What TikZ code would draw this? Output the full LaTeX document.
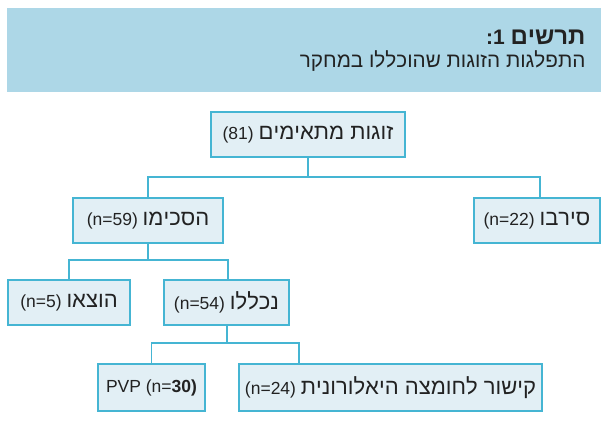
\documentclass[tikz,border=0pt]{standalone}
\usepackage{fontspec}
\setmainfont{Liberation Sans}
\TeXXeTstate=1
\definecolor{band}{HTML}{ADD7E7}
\definecolor{boxfill}{HTML}{E2EFF5}
\definecolor{boxline}{HTML}{45B5D3}
\definecolor{ink}{HTML}{222222}
\newcommand{\RL}[1]{{\fontsize{22}{24}\selectfont\beginR #1\endR}}
\begin{document}
\begin{tikzpicture}[x=1pt,y=-1pt,
  box/.style={draw=boxline, fill=boxfill, line width=1.2pt, inner sep=0pt,
    minimum height=45pt, text=ink, font=\fontsize{17.5}{20}\selectfont},
  link/.style={draw=boxline, line width=1.2pt}]
\useasboundingbox (0,0) rectangle (601,426);
% header band
\fill[band] (7,8) rectangle (601,92);
\node[anchor=base east, text=ink, font=\bfseries\fontsize{21}{24}\selectfont] (title) at (589,44) {:1 {\fontsize{24}{26}\selectfont\beginR תרשים\endR}};
\node[anchor=base east, text=ink, font=\fontsize{20.7}{24}\selectfont] (subtitle) at (589,67) {\beginR התפלגות הזוגות שהוכללו במחקר\endR};
% boxes
\node[box, minimum width=194pt] (top) at (308,134.5) {(81) \RL{זוגות מתאימים}};
\node[box, minimum width=150pt] (agreed) at (148,220.5) {(n=59) \RL{הסכימו}};
\node[box, minimum width=126pt] (refused) at (537,220.5) {(n=22) \RL{סירבו}};
\node[box, minimum width=122pt] (removed) at (69,302.5) {(n=5) \RL{הוצאו}};
\node[box, minimum width=125pt] (included) at (226.5,302.5) {(n=54) \RL{נכללו}};
\node[box, minimum width=107pt, minimum height=47pt] (pvp) at (151.5,387.5) {PVP (n=\textbf{30)}};
\node[box, minimum width=303pt, minimum height=47pt] (hya) at (390.5,387.5) {(n=24) \RL{קישור לחומצה היאלורונית}};
% connectors
\coordinate (j1) at (308,177);
\coordinate (j2) at (148,260);
\coordinate (j3) at (227,343);
\draw[link] (top.south) -- (j1);
\draw[link] (agreed.north) |- (j1) -| ([xshift=3pt]refused.north);
\draw[link] (agreed.south) -- (j2);
\draw[link] (removed.north) |- (j2) -| ([xshift=1.5pt]included.north);
\draw[link] ([xshift=0.5pt]included.south) -- (j3);
\draw[link] (pvp.north) |- (j3) -| ([xshift=-91.5pt]hya.north);
\end{tikzpicture}
\end{document}
